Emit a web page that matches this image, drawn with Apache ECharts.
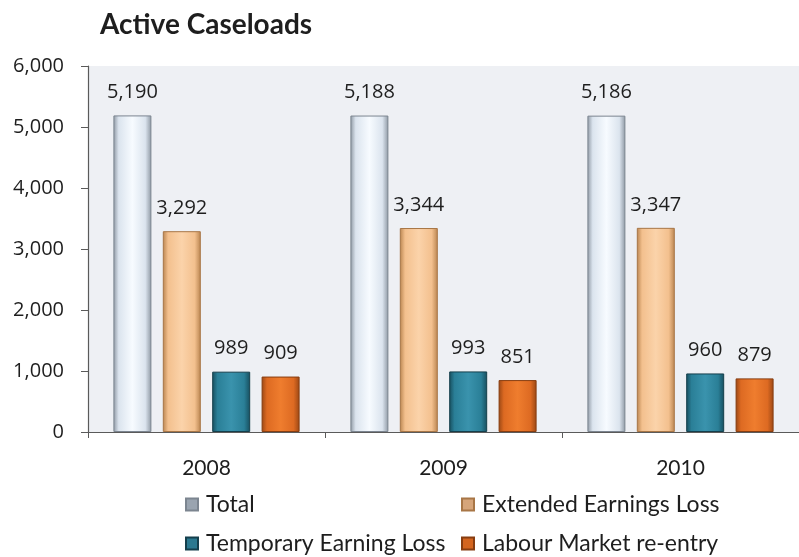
<!DOCTYPE html>
<html>
<head>
<meta charset="utf-8">
<script src="https://cdn.jsdelivr.net/npm/echarts@6/dist/echarts.min.js"></script>
<style>
  html, body { margin: 0; padding: 0; background: #ffffff; }
  #chart { width: 799px; height: 557px; }
</style>
</head>
<body>
<div id="chart"></div>
<script>
// Active caseloads by year and case type
const years = ['2008', '2009', '2010'];
const totalCases = [5190, 5188, 5186];
const extendedEarningsLoss = [3292, 3344, 3347];
const temporaryEarningLoss = [989, 993, 960];
const labourMarketReentry = [909, 851, 879];
const yTicks = [0, 1000, 2000, 3000, 4000, 5000, 6000];

// Horizontal "bevel" gradient: dark edges, bright centre
function bevel(edge, mid, centre) {
  return {
    type: 'linear', x: 0, y: 0, x2: 1, y2: 0,
    colorStops: [
      { offset: 0, color: edge },
      { offset: 0.14, color: mid },
      { offset: 0.5, color: centre },
      { offset: 0.84, color: mid },
      { offset: 1, color: edge }
    ]
  };
}

const seriesDefs = [
  { name: 'Total', data: totalCases, fill: bevel('#8e98a3', '#dbe4ee', '#f7fbff'), border: '#7c8590', icon: '#9aa4b0' },
  { name: 'Extended Earnings Loss', data: extendedEarningsLoss, fill: bevel('#b9844f', '#f3c08e', '#fbd3aa'), border: '#a87646', icon: '#d6a57a' },
  { name: 'Temporary Earning Loss', data: temporaryEarningLoss, fill: bevel('#174e5e', '#2a7f97', '#3a93ad'), border: '#143f4c', icon: '#2b7990' },
  { name: 'Labour Market re-entry', data: labourMarketReentry, fill: bevel('#9a4714', '#dd6a22', '#ef7d2e'), border: '#873d10', icon: '#d4651f' }
];

const fmt = v => v.toLocaleString('en-US');

const legendPos = [
  { left: 180, top: 488 },
  { left: 456, top: 488 },
  { left: 180, top: 527 },
  { left: 456, top: 527 }
];

const option = {
  animation: false,
  backgroundColor: '#ffffff',
  title: {
    text: 'Active Caseloads',
    left: 95, top: 6,
    textStyle: { fontFamily: 'Lato', fontWeight: 'bold', fontSize: 28, color: '#1e1e1e' }
  },
  legend: seriesDefs.map((s, i) => ({
    data: [{ name: s.name, itemStyle: { color: s.icon } }],
    left: legendPos[i].left, top: legendPos[i].top,
    icon: 'rect', itemWidth: 12, itemHeight: 12, itemGap: 6,
    textStyle: { fontFamily: 'Lato', fontSize: 23, color: '#1e1e1e', padding: [0, 0, 0, 3] },
    selectedMode: false
  })),
  grid: {
    left: 88, top: 66, right: -8, bottom: 125,
    show: true, backgroundColor: '#eef0f4', borderWidth: 0
  },
  xAxis: {
    type: 'category',
    data: years,
    axisLine: { lineStyle: { color: '#5a5a5a', width: 1.2 } },
    axisTick: { show: true, length: 6, inside: false, alignWithLabel: false, lineStyle: { color: '#5a5a5a' } },
    axisLabel: { margin: 26, fontFamily: 'Lato', fontSize: 21, color: '#1e1e1e' }
  },
  yAxis: {
    type: 'value',
    min: yTicks[0], max: yTicks[yTicks.length - 1], interval: 1000,
    axisLine: { show: true, lineStyle: { color: '#5a5a5a', width: 1.2 } },
    axisTick: { show: true, length: 7, lineStyle: { color: '#5a5a5a' } },
    splitLine: { show: false },
    axisLabel: { margin: 24, fontFamily: 'Open Sans', fontSize: 20, color: '#1e1e1e', formatter: v => fmt(v) }
  },
  series: seriesDefs.map(s => ({
    name: s.name,
    type: 'bar',
    data: s.data,
    barWidth: 38,
    barGap: '30%',
    itemStyle: { color: s.fill, borderColor: s.border, borderWidth: 1 },
    label: {
      show: true, position: 'top', distance: 13,
      fontFamily: 'Open Sans', fontSize: 20, color: '#1e1e1e',
      formatter: p => fmt(p.value)
    }
  }))
};

const chart = echarts.init(document.getElementById('chart'), null, { renderer: 'canvas' });
chart.setOption(option);
</script>
</body>
</html>
